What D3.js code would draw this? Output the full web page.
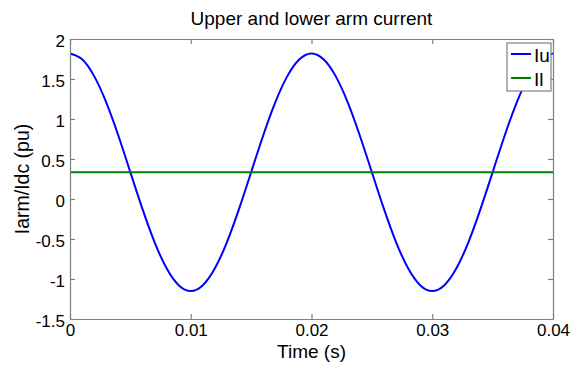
<!DOCTYPE html>
<html>
<head>
<meta charset="utf-8">
<script src="https://cdn.jsdelivr.net/npm/d3@7"></script>
<style>
  html, body { margin: 0; padding: 0; background: #fff; }
  svg { display: block; font-family: Arial, "Liberation Sans", sans-serif; }
</style>
</head>
<body>
<svg id="chart" width="576" height="365"></svg>
<script>
// Time samples (s), one per millisecond over two 50 Hz cycles
const timeS = [
  0.000, 0.001, 0.002, 0.003, 0.004, 0.005, 0.006, 0.007, 0.008, 0.009,
  0.010, 0.011, 0.012, 0.013, 0.014, 0.015, 0.016, 0.017, 0.018, 0.019,
  0.020, 0.021, 0.022, 0.023, 0.024, 0.025, 0.026, 0.027, 0.028, 0.029,
  0.030, 0.031, 0.032, 0.033, 0.034, 0.035, 0.036, 0.037, 0.038, 0.039,
  0.040
];
// Upper arm current Iu (pu)
const iu = [
  1.820, 1.747, 1.536, 1.208, 0.794, 0.335, -0.124, -0.538, -0.866, -1.077,
  -1.150, -1.077, -0.866, -0.538, -0.124, 0.335, 0.794, 1.208, 1.536, 1.747,
  1.820, 1.747, 1.536, 1.208, 0.794, 0.335, -0.124, -0.538, -0.866, -1.077,
  -1.150, -1.077, -0.866, -0.538, -0.124, 0.335, 0.794, 1.208, 1.536, 1.747,
  1.820
];
// Lower arm current Il (pu), constant
const ilLevel = 0.335;
const il = timeS.map(() => ilLevel);

const xTicks = [0, 0.01, 0.02, 0.03, 0.04];
const xTickLabels = ["0", "0.01", "0.02", "0.03", "0.04"];
const yTicks = [2, 1.5, 1, 0.5, 0, -0.5, -1, -1.5];
const yTickLabels = ["2", "1.5", "1", "0.5", "0", "-0.5", "-1", "-1.5"];

const seriesNames = ["Iu", "Il"];
const seriesColors = ["#0000ff", "#008000"];

const svg = d3.select("#chart");
const plot = { left: 70, right: 553, top: 39, bottom: 319 };

const x = d3.scaleLinear().domain([0, 0.04]).range([plot.left, plot.right]);
const y = d3.scaleLinear().domain([-1.5, 2]).range([plot.bottom, plot.top]);

const axisColor = "#808080";
const tickLen = 5;

svg.append("defs").append("clipPath").attr("id", "plotClip")
  .append("rect")
  .attr("x", plot.left).attr("y", plot.top)
  .attr("width", plot.right - plot.left).attr("height", plot.bottom - plot.top);

// Data lines
const line = d3.line()
  .x(d => x(d[0]))
  .y(d => y(d[1]))
  .curve(d3.curveNatural);

const series = [iu, il];
const lines = svg.append("g").attr("clip-path", "url(#plotClip)");
series.forEach((vals, i) => {
  lines.append("path")
    .datum(timeS.map((t, k) => [t, vals[k]]))
    .attr("d", line)
    .attr("fill", "none")
    .attr("stroke", seriesColors[i])
    .attr("stroke-width", 2);
});

// Axes box with inward ticks on all four sides
const axisBottom = d3.axisBottom(x).tickValues(xTicks)
  .tickSizeInner(-tickLen).tickSizeOuter(0)
  .tickFormat((d, i) => xTickLabels[i]).tickPadding(5);
const axisTop = d3.axisTop(x).tickValues(xTicks)
  .tickSizeInner(-tickLen).tickSizeOuter(0).tickFormat("");
const axisLeft = d3.axisLeft(y).tickValues(yTicks)
  .tickSizeInner(-tickLen).tickSizeOuter(0)
  .tickFormat((d, i) => yTickLabels[i]).tickPadding(5);
const axisRight = d3.axisRight(y).tickValues(yTicks)
  .tickSizeInner(-tickLen).tickSizeOuter(0).tickFormat("");

function styleAxis(g) {
  g.select(".domain").attr("stroke", axisColor).attr("stroke-width", 1.2);
  g.selectAll(".tick line").attr("stroke", axisColor).attr("stroke-width", 1.2);
  g.selectAll(".tick text")
    .attr("fill", "#000")
    .style("font-size", "17px")
    .style("font-family", "Arial, 'Liberation Sans', sans-serif");
}

svg.append("g").attr("transform", `translate(0,${plot.bottom})`).call(axisBottom).call(styleAxis);
svg.append("g").attr("transform", `translate(0,${plot.top})`).call(axisTop).call(styleAxis);
svg.append("g").attr("transform", `translate(${plot.left},0)`).call(axisLeft).call(styleAxis)
  .selectAll(".tick text").attr("dy", "0.42em");
svg.append("g").attr("transform", `translate(${plot.right},0)`).call(axisRight).call(styleAxis);

// Title and axis labels
svg.append("text")
  .attr("x", (plot.left + plot.right) / 2).attr("y", 25)
  .attr("text-anchor", "middle")
  .style("font-size", "19px")
  .text("Upper and lower arm current");

svg.append("text")
  .attr("x", (plot.left + plot.right) / 2).attr("y", 358)
  .attr("text-anchor", "middle")
  .style("font-size", "19px")
  .text("Time (s)");

svg.append("text")
  .attr("transform", `translate(29,${(plot.top + plot.bottom) / 2}) rotate(-90)`)
  .attr("text-anchor", "middle")
  .style("font-size", "19.5px")
  .text("Iarm/Idc (pu)");

// Legend
const legend = { x: 507, y: 43, w: 44, h: 48 };
svg.append("rect")
  .attr("x", legend.x).attr("y", legend.y)
  .attr("width", legend.w).attr("height", legend.h)
  .attr("fill", "#fff")
  .attr("stroke", axisColor).attr("stroke-width", 1.2);

const legendRowsY = [54, 78];
seriesNames.forEach((name, i) => {
  const ly = legendRowsY[i];
  svg.append("line")
    .attr("x1", legend.x + 4).attr("x2", legend.x + 24)
    .attr("y1", ly).attr("y2", ly)
    .attr("stroke", seriesColors[i]).attr("stroke-width", 2);
  svg.append("text")
    .attr("x", legend.x + 27).attr("y", ly + 8)
    .style("font-size", "19px")
    .text(name);
});
</script>
</body>
</html>
